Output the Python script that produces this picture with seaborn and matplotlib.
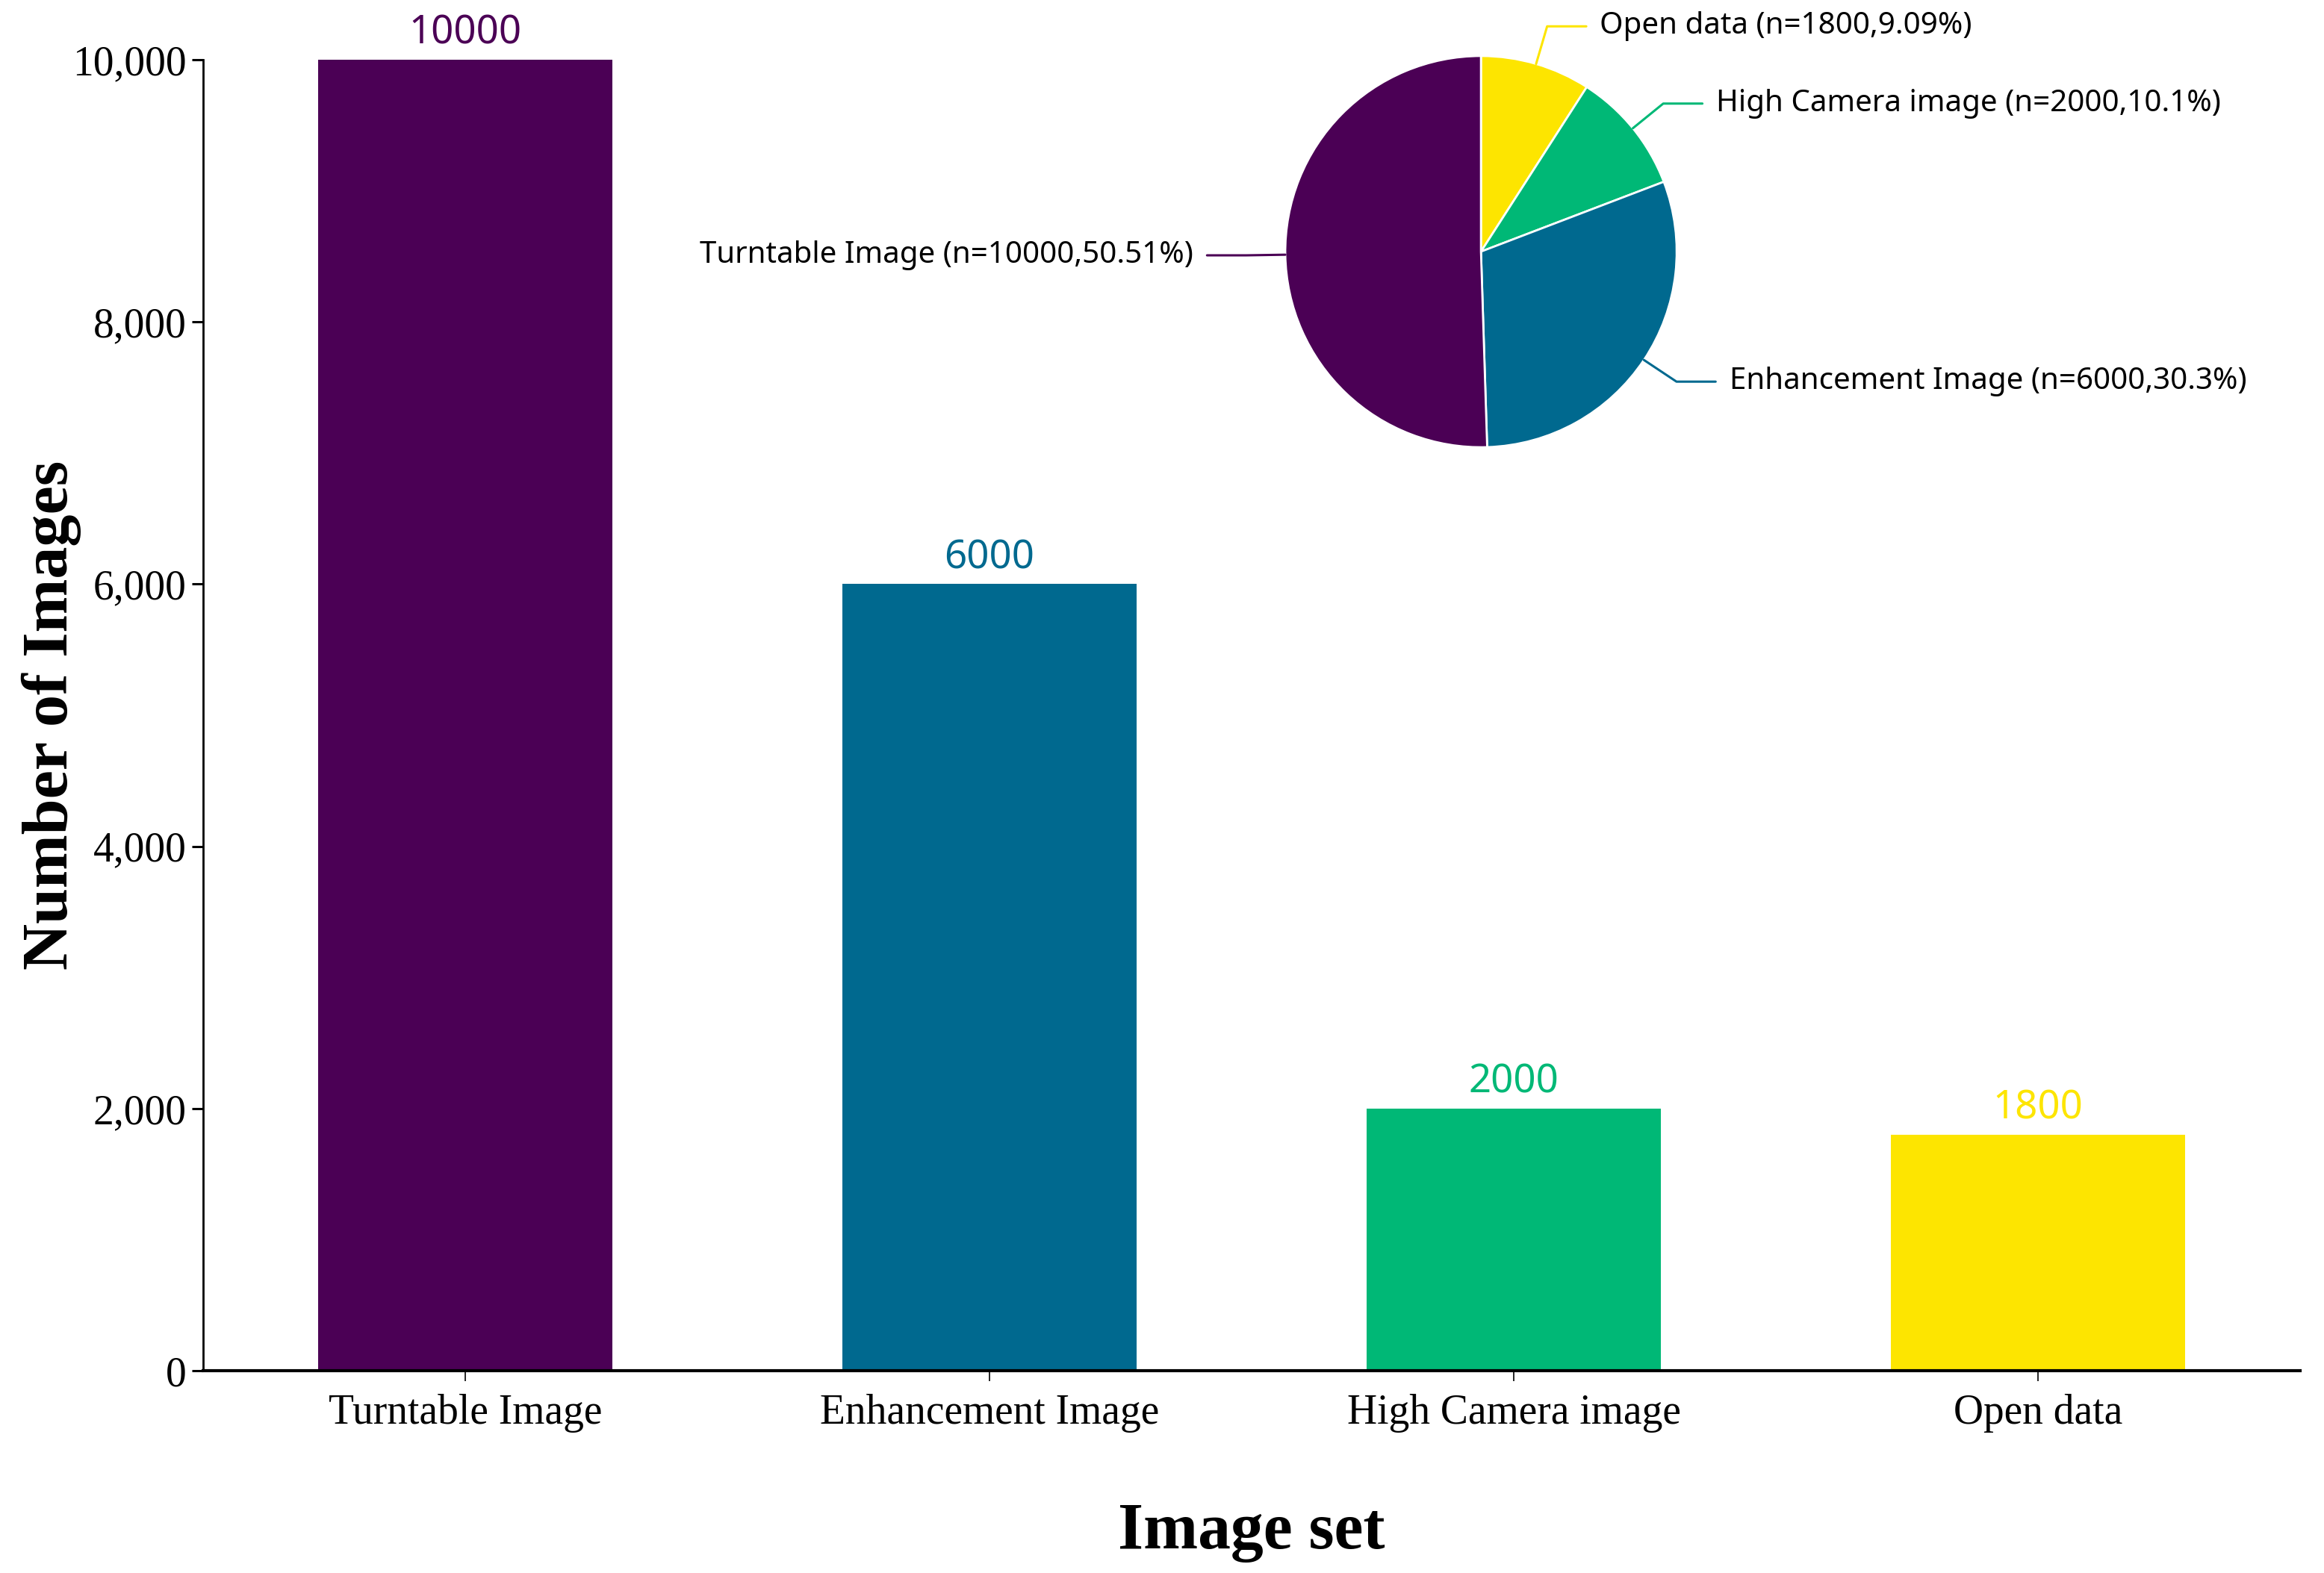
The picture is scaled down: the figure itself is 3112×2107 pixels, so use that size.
import numpy as np
import pandas as pd
import matplotlib
matplotlib.use("Agg")
import matplotlib.pyplot as plt
import matplotlib.ticker as mticker
import seaborn as sns

# data
sets = ["Turntable Image", "Enhancement Image", "High Camera image", "Open data"]
counts = [10000, 6000, 2000, 1800]
pie_pct = ["50.51%", "30.3%", "10.1%", "9.09%"]
colors = ["#4B0055", "#00698F", "#00B876", "#FDE500"]

df = pd.DataFrame({"set": sets, "n": counts})

sns.set_style("white")
plt.rcParams["font.family"] = ["Liberation Serif", "DejaVu Serif"]
plt.rcParams["text.color"] = "black"
plt.rcParams["axes.labelcolor"] = "black"
plt.rcParams["xtick.color"] = "black"
plt.rcParams["ytick.color"] = "black"
sans = ["Noto Sans", "DejaVu Sans"]

fig = plt.figure(figsize=(31.12, 21.07), dpi=100)
ax = fig.add_axes([0.0874, 0.1286, 0.9023, 0.8334])

sns.barplot(data=df, x="set", y="n", hue="set", palette=colors, order=sets,
            hue_order=sets, width=0.56, saturation=1, legend=False, ax=ax,
            linewidth=0)

for cont, c in zip(ax.containers, colors):
    ax.bar_label(cont, fmt="%d", padding=6, color=c, fontsize=38,
                 family=sans, clip_on=False)

ax.set_xlim(-0.5, 3.5)
ax.set_ylim(0, 10000)
ax.yaxis.set_major_locator(mticker.MultipleLocator(2000))
ax.yaxis.set_major_formatter(mticker.FuncFormatter(lambda v, p: f"{v:,.0f}"))
ax.tick_params(axis="y", labelsize=40, length=11, width=2.2, pad=5, left=True)
ax.tick_params(axis="x", labelsize=40, length=10, width=1.2, pad=12, bottom=True)
for s in ["top", "right"]:
    ax.spines[s].set_visible(False)
ax.spines["left"].set_linewidth(2.0)
ax.spines["bottom"].set_linewidth(3.0)
ax.spines["left"].set_color("black")
ax.spines["bottom"].set_color("black")

ax.set_xlabel("Image set", fontsize=63, fontweight="bold")
ax.set_ylabel("Number of Images", fontsize=62, fontweight="bold")
ax.xaxis.set_label_coords(0.5, -0.1)
ax.yaxis.set_label_coords(-0.058, 0.5)

# pie inset
pax = fig.add_axes([0.5362, 0.6908, 0.2021, 0.2985])
rev = list(range(len(sets)))[::-1]
wedges, _ = pax.pie([counts[i] for i in rev], colors=[colors[i] for i in rev],
                    startangle=90, counterclock=False,
                    wedgeprops=dict(edgecolor="white", linewidth=2))
pax.set_xlim(-1.2, 1.2)
pax.set_ylim(-1.2, 1.2)
pax.set_aspect("equal")
pax.axis("off")

for w, i in zip(wedges, rev):
    ang = np.deg2rad((w.theta1 + w.theta2) / 2)
    c, s = np.cos(ang), np.sin(ang)
    side = 1 if c >= 0 else -1
    x1, y1 = 1.2 * c, 1.2 * s
    x2 = x1 + side * 0.2
    pax.plot([c, x1, x2], [s, y1, y1], color=colors[i], lw=2.2, clip_on=False)
    pax.text(x2 + side * 0.07, y1, f"{sets[i]} (n={counts[i]},{pie_pct[i]})",
             ha="left" if side > 0 else "right", va="center", fontsize=29,
             family=sans, clip_on=False)

fig.savefig("out.png", dpi=100)
